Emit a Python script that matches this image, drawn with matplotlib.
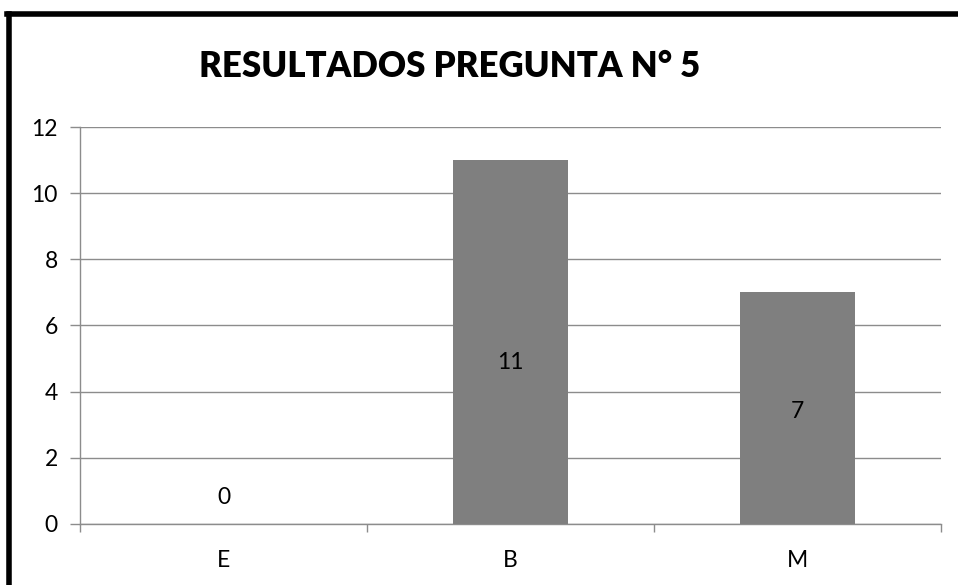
import numpy as np
import matplotlib.pyplot as plt
from matplotlib.lines import Line2D

categorias = ["E", "B", "M"]
respuestas = [0, 11, 7]
titulo = "RESULTADOS PREGUNTA N° 5"

plt.rcParams["font.family"] = ["Lato", "DejaVu Sans"]

fig = plt.figure(figsize=(9.58, 5.85), dpi=100)
ax = fig.add_axes([0.0835, 0.1043, 0.8988, 0.6786])

x = np.arange(len(categorias))
gris = "#8c8c8c"

ax.bar(x, respuestas, width=0.4, color="#7f7f7f", zorder=3)

# etiquetas de valor dentro de las barras
for xi, v in zip(x, respuestas):
    ax.text(xi, 0.8 + 0.37 * v, str(v), ha="center", va="center",
            fontsize=16.5, color="black", zorder=4)

ax.set_xlim(-0.5, len(categorias) - 0.5)
ax.set_ylim(0, 12)
ax.set_yticks(range(0, 13, 2))
ax.set_xticks(x)
ax.set_xticklabels(categorias)

# marcas del eje x en los limites de cada categoria
ax.set_xticks(np.arange(len(categorias) + 1) - 0.5, minor=True)
ax.tick_params(axis="x", which="major", length=0, pad=19, labelsize=16.5)
ax.tick_params(axis="x", which="minor", length=6, width=1, color=gris)
ax.tick_params(axis="y", length=7, width=1, color=gris, pad=9, labelsize=16.5)

ax.grid(axis="y", color=gris, linewidth=1, zorder=0)
for lado in ["top", "right"]:
    ax.spines[lado].set_visible(False)
for lado in ["left", "bottom"]:
    ax.spines[lado].set_color(gris)
    ax.spines[lado].set_linewidth(1)

fig.text(0.469, 0.886, titulo, ha="center", va="center",
         fontsize=25, fontweight="heavy")

# marco negro del grafico
fig.add_artist(Line2D([0.0099, 0.0099], [0, 0.976], color="black",
                      linewidth=4, transform=fig.transFigure))
fig.add_artist(Line2D([0.0078, 1.0], [0.976, 0.976], color="black",
                      linewidth=4, transform=fig.transFigure))

fig.savefig("out.png", dpi=100)
